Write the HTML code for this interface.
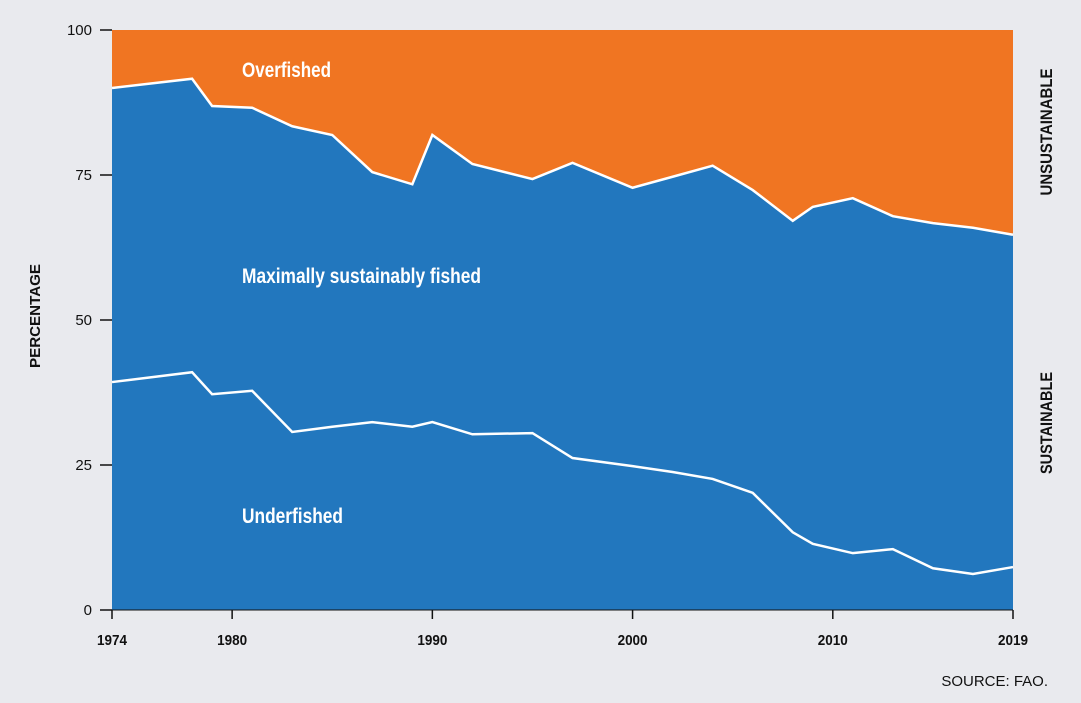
<!DOCTYPE html>
<html><head><meta charset="utf-8"><style>
body{margin:0;background:#e9eaee;width:1081px;height:698px;overflow:hidden;font-family:"Liberation Sans Narrow","Liberation Sans",sans-serif;}
svg text{font-family:"Liberation Sans Narrow","Liberation Sans",sans-serif;}
</style></head><body>
<svg id="chart" width="1081" height="698" xmlns="http://www.w3.org/2000/svg">
<rect width="1081" height="698" fill="#e9eaee"/>
<g id="plot"></g>
<g id="axes"></g>
<text x="40" y="316" transform="rotate(-90 40 316)" text-anchor="middle" font-size="15" font-weight="bold" fill="#111" textLength="104" lengthAdjust="spacingAndGlyphs">PERCENTAGE</text>
<text x="1052" y="132" transform="rotate(-90 1052 132)" text-anchor="middle" font-size="17" font-weight="bold" fill="#111" textLength="127" lengthAdjust="spacingAndGlyphs">UNSUSTAINABLE</text>
<text x="1052" y="423" transform="rotate(-90 1052 423)" text-anchor="middle" font-size="17" font-weight="bold" fill="#111" textLength="102" lengthAdjust="spacingAndGlyphs">SUSTAINABLE</text>
<text x="1048" y="686" text-anchor="end" font-size="15" fill="#111">SOURCE: FAO.</text>
</svg>
<script>
const years = [1974,1978,1979,1981,1983,1985,1987,1989,1990,1992,1995,1997,2000,2002,2004,2006,2008,2009,2011,2013,2015,2017,2019];
const sustainableTotal = [90.0,91.6,86.9,86.6,83.4,81.9,75.5,73.4,81.9,76.9,74.3,77.1,72.8,74.7,76.6,72.4,67.1,69.5,71.0,67.9,66.7,65.9,64.7];
const underfished = [39.3,41.0,37.2,37.8,30.7,31.6,32.4,31.6,32.4,30.3,30.5,26.2,24.8,23.8,22.6,20.2,13.4,11.4,9.8,10.5,7.2,6.2,7.4];
const yTicks = [0,25,50,75,100];
const xTicks = [1974,1980,1990,2000,2010,2019];
const NS="http://www.w3.org/2000/svg";
const X0=112,X1=1013,Y0=610,Y1=30;
function xs(v){return X0+(v-1974)/(2019-1974)*(X1-X0);}
function ys(v){return Y0-v/100*(Y0-Y1);}
const plot=document.getElementById('plot'),axes=document.getElementById('axes');
function mk(tag,attrs,parent){const e=document.createElementNS(NS,tag);for(const k in attrs)e.setAttribute(k,attrs[k]);parent.appendChild(e);return e;}
let r=mk('rect',{x:X0,y:ys(100),width:X1-X0,height:ys(0)-ys(100),fill:'#f07522'},plot);


let d='M'+xs(years[0])+','+ys(0)+years.map((y,i)=>' L'+xs(y)+','+ys(sustainableTotal[i])).join('')+' L'+xs(years[years.length-1])+','+ys(0)+'Z';
let blue=mk('path',{d:d,fill:'#2277be'},plot);


let l1=mk('polyline',{points:years.map((y,i)=>xs(y)+','+ys(sustainableTotal[i])).join(' '),fill:'none',stroke:'#fff','stroke-width':2.5},plot);


let l2=mk('polyline',{points:years.map((y,i)=>xs(y)+','+ys(underfished[i])).join(' '),fill:'none',stroke:'#fff','stroke-width':2.5},plot);


const labels=[['Overfished',242,77,89,'overfished-label'],['Maximally sustainably fished',242,283,239,'maximally-sustainably-fished-label'],['Underfished',242,523,101,'underfished-label']];
labels.forEach(a=>{let t=mk('text',{x:a[1],y:a[2],'font-size':21,'font-weight':'bold',fill:'#fff',textLength:a[3],lengthAdjust:'spacingAndGlyphs'},plot);t.textContent=a[0];

});
yTicks.forEach(v=>{let t=mk('line',{x1:100,x2:X0,y1:ys(v),y2:ys(v),stroke:'#111','stroke-width':1.5},axes);


let l=mk('text',{x:92,y:ys(v)+5,'text-anchor':'end','font-size':15,fill:'#111'},axes);l.textContent=v;

});
let ax=mk('line',{x1:X0,x2:X1,y1:Y0,y2:Y0,stroke:'#111','stroke-width':1},axes);


xTicks.forEach(v=>{let t=mk('line',{x1:xs(v),x2:xs(v),y1:Y0,y2:Y0+9,stroke:'#111','stroke-width':1.5},axes);


let l=mk('text',{x:xs(v),y:645,'text-anchor':'middle','font-size':15,'font-weight':'bold',fill:'#111',textLength:30,lengthAdjust:'spacingAndGlyphs'},axes);l.textContent=v;

});
</script>
</body></html>
